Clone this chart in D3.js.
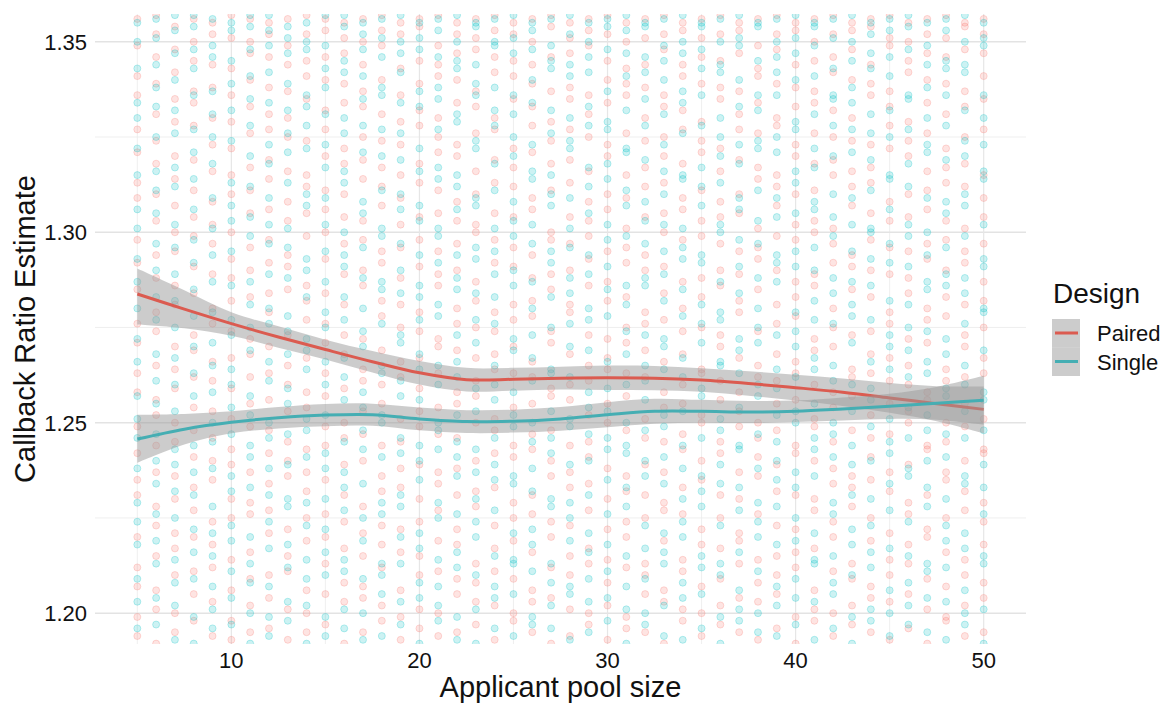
<!DOCTYPE html>
<html>
<head>
<meta charset="utf-8">
<script src="https://cdn.jsdelivr.net/npm/d3@7"></script>
<style>
  body { margin: 0; background: #fff; }
  text { font-family: "Liberation Sans", Arial, sans-serif; fill: #111; }
</style>
</head>
<body>
<div id="chart"></div>
<script>
// applicant pool sizes (one column of points each)
const poolSizes = [5,6,7,8,9,10,11,12,13,14,15,16,17,18,19,20,21,22,23,24,25,26,27,28,29,30,
  31,32,33,34,35,36,37,38,39,40,41,42,43,44,45,46,47,48,49,50]

// callback ratio estimates, stored as thousandths above 1 (e.g. 245 -> 1.245)
const pairedPoints = [
  [194,199,207,212,220,231,235,242,249,258,263,271,276,285,292,298,309,313,321,327,336,341,349,356],
  [192,201,206,215,223,228,237,244,252,256,265,274,279,288,294,303,310,318,324,331,339,346,352,357],
  [195,200,210,217,221,230,236,245,250,259,264,270,281,286,295,300,307,314,320,329,335,342,348,354],
  [198,205,211,220,227,233,241,248,254,262,269,273,284,291,299,304,311,319,328,334,337,345,350,356],
  [194,203,212,218,224,235,240,246,253,261,266,276,280,289,297,302,308,316,323,330,338,344,352,355],
  [193,198,206,214,225,230,239,243,251,259,267,274,282,288,293,300,310,315,322,329,336,343,351,357],
  [195,202,209,216,226,229,237,249,255,262,268,272,283,290,296,305,311,317,326,333,340,347,350,356],
  [196,204,210,221,227,234,242,248,256,263,270,279,284,292,298,306,314,319,327,331,338,346,352,355],
  [193,201,211,215,222,236,240,245,253,260,265,273,285,291,294,303,308,316,325,330,337,344,349,356],
  [195,200,206,219,225,232,237,243,254,258,267,277,282,286,299,305,312,315,324,335,341,345,352,357],
  [197,205,213,220,226,235,244,249,257,263,271,276,284,293,300,306,311,320,327,332,340,346,353,356],
  [192,203,208,217,224,231,239,246,250,259,268,273,281,289,297,304,310,318,322,334,339,347,351,355],
  [195,204,207,215,221,228,240,247,253,261,264,272,286,290,298,303,314,319,325,333,337,344,350,356],
  [198,202,212,218,223,232,236,244,255,260,269,278,282,292,295,307,312,317,324,331,340,349,353,357],
  [193,199,206,216,222,233,238,245,251,262,266,275,281,288,296,302,309,315,323,329,336,343,352,355],
  [196,201,210,215,224,230,239,249,253,259,267,274,279,291,298,304,313,318,328,332,339,345,354,356],
  [194,200,211,219,227,234,237,247,254,263,270,272,286,289,295,305,311,321,325,330,341,344,349,357],
  [195,205,209,218,222,231,238,246,255,258,269,276,280,290,297,303,308,320,323,334,340,347,352,355],
  [197,203,208,213,228,232,240,250,257,261,267,275,282,287,300,302,310,316,326,333,337,348,351,356],
  [193,202,211,217,223,233,242,248,251,264,268,274,279,292,298,305,313,319,327,330,342,346,353,357],
  [198,200,209,219,225,229,241,244,254,263,270,277,281,291,296,304,312,317,322,335,341,345,352,355],
  [195,203,206,216,226,231,243,247,255,262,266,278,282,288,294,306,309,321,328,333,339,344,350,356],
  [192,204,212,220,224,236,240,248,257,259,271,274,285,289,298,300,311,318,324,329,337,346,354,357],
  [194,201,210,215,223,233,237,244,256,260,268,279,281,290,297,304,313,319,327,335,338,347,351,355],
  [197,200,213,217,227,234,241,245,252,261,265,273,286,293,299,303,308,316,325,331,336,349,353,356],
  [193,202,208,214,222,230,238,250,255,264,267,272,282,287,295,306,310,320,323,334,340,345,352,357],
  [196,199,212,220,224,232,236,248,257,263,271,275,283,292,296,301,309,315,326,336,339,343,350,355],
  [195,205,210,213,225,231,239,246,251,262,269,276,279,290,294,304,312,317,324,330,338,344,351,356],
  [192,203,206,219,227,229,237,245,254,258,266,277,284,291,300,305,313,320,325,333,336,348,352,357],
  [198,201,211,214,226,233,243,247,255,260,268,274,280,287,298,306,309,318,327,332,341,344,353,355],
  [194,200,207,218,222,235,240,250,252,263,264,275,283,288,299,303,311,321,324,329,339,346,351,356],
  [197,202,209,217,225,231,242,245,256,261,270,273,286,290,297,304,308,316,322,335,338,345,352,357],
  [195,204,213,219,221,230,237,249,253,258,267,279,282,289,295,305,310,319,327,331,337,347,353,355],
  [193,203,208,214,226,236,241,246,250,262,265,274,285,293,296,301,314,317,326,334,341,343,349,356],
  [196,205,210,215,223,232,239,248,255,261,268,276,281,290,299,307,312,315,328,330,339,348,352,357],
  [192,199,212,216,222,231,242,244,256,263,266,278,283,287,298,302,310,320,323,333,338,344,353,355],
  [198,201,206,217,227,230,240,249,251,260,269,272,286,289,300,303,311,318,326,334,337,345,350,356],
  [194,200,211,220,224,234,238,245,254,258,270,275,280,292,297,301,315,319,325,332,342,346,352,357],
  [197,202,209,213,228,233,236,248,257,262,264,273,285,291,294,307,312,316,324,330,340,348,353,355],
  [195,204,207,219,225,235,241,246,252,263,268,274,283,290,298,305,313,317,323,336,339,344,354,356],
  [193,203,210,214,221,232,237,247,255,261,267,276,279,289,296,303,308,322,328,333,337,349,351,357],
  [196,205,213,218,226,229,239,250,253,260,265,272,284,288,295,304,310,320,324,329,342,345,350,355],
  [192,201,209,220,222,231,243,244,256,258,271,277,280,293,297,306,311,316,326,334,340,347,352,356],
  [198,199,207,216,225,235,237,245,250,261,264,278,283,290,298,303,313,317,322,331,339,346,351,357],
  [194,202,210,214,227,232,240,249,255,262,270,273,281,292,295,301,312,318,325,333,337,348,354,355],
  [195,204,208,218,224,229,242,243,251,263,267,275,282,287,297,304,309,315,327,335,341,347,352,356]
]
const singlePoints = [
  [196,203,209,218,224,229,238,246,251,257,266,272,280,287,293,301,306,315,322,330,334,343,350,355],
  [197,204,213,219,226,234,240,247,255,261,268,277,283,290,297,305,311,316,325,333,338,344,351,356],
  [193,202,208,214,225,232,239,243,253,260,267,275,282,289,296,302,312,317,326,332,340,347,353,357],
  [192,199,209,216,222,231,237,244,257,263,270,278,285,292,298,306,314,321,327,336,343,348,354,357],
  [196,201,207,215,221,228,238,245,250,258,265,271,279,287,294,301,309,318,325,331,337,346,349,356],
  [197,204,211,219,223,232,236,247,254,260,264,273,277,286,295,303,307,313,324,332,339,345,353,355],
  [192,200,208,213,220,233,241,244,252,257,269,275,281,287,299,304,312,320,328,335,341,348,354,357],
  [194,199,207,217,224,231,238,246,250,261,266,276,280,289,297,302,309,318,323,334,342,349,353,357],
  [198,203,212,218,228,230,239,247,255,259,268,274,278,288,296,301,313,321,326,332,339,347,351,354],
  [192,202,209,214,223,229,241,248,251,264,269,272,283,290,293,307,310,322,328,333,336,348,350,355],
  [194,199,210,216,222,230,238,242,252,260,266,275,279,287,295,302,309,317,323,331,338,343,349,357],
  [196,201,211,214,227,233,237,245,256,262,267,277,283,291,294,300,313,316,326,330,342,345,354,357],
  [193,200,209,219,225,234,243,248,254,258,270,274,280,288,296,305,308,321,328,335,341,348,352,355],
  [194,205,210,213,226,229,241,250,252,263,265,276,285,287,299,301,311,320,327,336,338,346,351,356],
  [197,203,213,220,228,231,242,246,257,261,271,273,284,290,297,306,310,319,326,334,342,347,350,357],
  [192,204,208,217,221,235,240,244,256,264,268,277,283,286,294,303,307,316,322,333,337,348,351,355],
  [198,202,207,214,225,229,243,248,250,260,265,278,281,292,299,301,314,317,327,335,338,346,353,356],
  [193,199,212,216,226,236,241,245,252,262,266,273,285,288,294,306,312,315,329,331,343,345,350,357],
  [192,201,210,220,224,230,237,243,253,259,271,277,284,293,296,307,309,322,324,336,339,344,354,355],
  [196,204,207,215,227,235,239,246,256,260,265,276,283,289,295,301,311,318,328,332,338,349,350,356],
  [194,205,213,214,221,234,236,249,252,258,269,272,286,290,299,303,308,320,325,331,336,347,351,357],
  [197,199,211,218,222,232,238,245,250,261,267,273,280,287,297,302,314,316,323,334,340,348,353,355],
  [196,202,208,213,228,230,242,246,253,263,264,275,283,292,295,307,310,315,326,332,343,345,349,356],
  [193,205,207,219,225,229,239,249,251,262,270,276,284,288,296,301,309,322,324,330,341,344,352,357],
  [195,203,209,216,221,231,240,247,254,258,269,277,280,289,294,305,312,317,328,333,342,346,350,355],
  [198,204,211,218,226,235,243,246,253,259,266,278,285,291,298,302,314,318,327,329,337,348,354,356],
  [192,201,207,215,228,233,242,244,250,260,268,274,281,286,299,307,311,321,322,332,341,347,353,357],
  [197,200,209,217,223,236,240,248,256,261,265,273,286,288,297,303,308,319,328,335,342,346,354,355],
  [194,202,213,216,221,234,241,249,252,264,270,272,282,289,295,302,310,316,323,331,340,345,349,356],
  [193,204,208,220,224,230,238,244,253,262,267,278,285,293,296,301,314,315,326,334,337,347,350,357],
  [196,205,212,215,228,232,236,246,257,259,271,276,281,292,294,307,312,317,328,336,343,348,354,355],
  [192,199,210,213,223,234,239,248,251,265,266,277,279,287,300,302,313,320,325,330,342,344,350,356],
  [198,201,206,216,227,233,243,244,254,263,269,272,284,291,298,306,309,318,323,333,340,349,351,357],
  [195,200,211,220,224,229,238,247,257,260,271,275,280,288,297,303,311,322,324,332,336,345,354,355],
  [194,202,207,218,228,235,240,245,252,259,264,273,287,292,294,304,309,321,325,336,342,346,350,356],
  [197,204,209,219,225,233,237,250,253,262,270,274,279,291,295,305,313,316,327,329,340,347,351,357],
  [193,203,213,214,221,236,243,246,255,264,267,277,282,290,296,306,308,317,322,331,341,349,354,355],
  [196,205,208,215,226,229,241,247,250,261,265,276,284,288,299,304,310,320,328,335,336,343,351,356],
  [192,199,210,218,222,231,239,244,253,260,271,278,281,287,295,302,309,321,327,334,338,345,350,357],
  [198,201,212,216,223,230,240,249,256,259,266,277,286,293,300,301,311,319,326,331,343,347,352,355],
  [194,200,206,217,227,234,242,245,251,264,270,273,282,292,297,306,314,315,325,332,341,346,353,356],
  [197,202,208,215,224,236,238,246,254,262,269,275,281,291,299,302,312,318,327,335,336,348,354,357],
  [195,204,211,213,228,233,240,248,252,263,266,274,285,287,294,300,309,321,323,330,338,344,349,355],
  [193,203,212,219,223,230,241,247,257,259,268,272,286,289,296,305,308,319,328,336,343,345,353,356],
  [197,200,206,217,221,234,236,246,253,260,265,276,284,288,299,307,310,320,324,332,342,344,350,357],
  [192,201,213,215,226,233,239,248,256,258,269,279,280,291,293,302,314,316,323,330,336,349,351,355]
]

// loess fits
const smoothX    = [5,7.5,10,12.5,15,17.5,20,22.5,25,27.5,30,32.5,35,37.5,40,42.5,45,47.5,50]
const pairedFit  = [1.2838,1.2798,1.2760,1.2725,1.2692,1.2660,1.2631,1.2613,1.2614,1.2617,1.2618,1.2617,1.2612,1.2603,1.2592,1.2580,1.2565,1.2550,1.2535]
const pairedLo   = [1.2758,1.2748,1.2728,1.2697,1.2666,1.2632,1.2600,1.2582,1.2584,1.2587,1.2586,1.2585,1.2581,1.2571,1.2558,1.2544,1.2526,1.2504,1.2472]
const pairedHi   = [1.2905,1.2848,1.2790,1.2753,1.2718,1.2688,1.2662,1.2644,1.2644,1.2647,1.2650,1.2649,1.2643,1.2635,1.2626,1.2616,1.2604,1.2596,1.2595]
const singleFit  = [1.2457,1.2483,1.2501,1.2513,1.2520,1.2521,1.2510,1.2503,1.2504,1.2510,1.2521,1.2530,1.2530,1.2528,1.2530,1.2536,1.2543,1.2551,1.2559]
const singleLo   = [1.2395,1.2443,1.2472,1.2485,1.2491,1.2492,1.2480,1.2473,1.2474,1.2479,1.2488,1.2497,1.2500,1.2499,1.2502,1.2506,1.2510,1.2508,1.2495]
const singleHi   = [1.2521,1.2523,1.2530,1.2541,1.2549,1.2550,1.2540,1.2533,1.2534,1.2541,1.2554,1.2563,1.2560,1.2557,1.2558,1.2566,1.2576,1.2594,1.2623]

const designs    = ['Paired', 'Single']
const xTicks     = [10, 20, 30, 40, 50]
const xMinor     = [5, 15, 25, 35, 45]
const yTicks     = [1.20, 1.25, 1.30, 1.35]
const yMinor     = [1.225, 1.275, 1.325]

const pointColor = {Paired: '#F8766D', Single: '#00BFC4'}
const lineColor  = {Paired: '#DB5B50', Single: '#45AEB3'}

var width = 1164, height = 704
var panel = {left: 95, right: 1026, top: 14, bottom: 644}

var svg = d3.select('#chart').append('svg')
  .attr('width', width).attr('height', height)

var x = d3.scaleLinear().domain([2.75, 52.25]).range([panel.left, panel.right])
var y = d3.scaleLinear().domain([1.1919, 1.3573]).range([panel.bottom, panel.top])

svg.append('clipPath').attr('id', 'panelClip')
  .append('rect')
  .attr('x', panel.left).attr('y', panel.top)
  .attr('width', panel.right - panel.left).attr('height', panel.bottom - panel.top)

// grid
var grid = svg.append('g')
grid.selectAll('.ymin').data(yMinor).join('line')
  .attr('x1', panel.left).attr('x2', panel.right)
  .attr('y1', d => y(d)).attr('y2', d => y(d))
  .attr('stroke', '#ebebeb').attr('stroke-width', 0.8)
grid.selectAll('.xmin').data(xMinor).join('line')
  .attr('y1', panel.top).attr('y2', panel.bottom)
  .attr('x1', d => x(d)).attr('x2', d => x(d))
  .attr('stroke', '#ebebeb').attr('stroke-width', 0.8)
grid.selectAll('.ymaj').data(yTicks).join('line')
  .attr('x1', panel.left).attr('x2', panel.right)
  .attr('y1', d => y(d)).attr('y2', d => y(d))
  .attr('stroke', '#e3e3e3').attr('stroke-width', 1.5)
grid.selectAll('.xmaj').data(xTicks).join('line')
  .attr('y1', panel.top).attr('y2', panel.bottom)
  .attr('x1', d => x(d)).attr('x2', d => x(d))
  .attr('stroke', '#e6e6e6').attr('stroke-width', 1.2)

// points
var plot = svg.append('g').attr('clip-path', 'url(#panelClip)')
var seriesPoints = {Paired: pairedPoints, Single: singlePoints}
designs.forEach(function(design) {
  var pts = []
  seriesPoints[design].forEach(function(col, i) {
    col.forEach(function(v) { pts.push({x: poolSizes[i], y: 1 + v / 1000}) })
  })
  plot.append('g').selectAll('circle').data(pts).join('circle')
    .attr('cx', d => x(d.x)).attr('cy', d => y(d.y)).attr('r', 3.5)
    .attr('fill', pointColor[design]).attr('fill-opacity', 0.2)
    .attr('stroke', pointColor[design]).attr('stroke-opacity', 0.32).attr('stroke-width', 0.8)
})

// smooth ribbons and lines
var fits = {
  Paired: {fit: pairedFit, lo: pairedLo, hi: pairedHi},
  Single: {fit: singleFit, lo: singleLo, hi: singleHi}
}
designs.forEach(function(design) {
  var f = fits[design]
  var rows = smoothX.map((v, i) => ({x: v, fit: f.fit[i], lo: f.lo[i], hi: f.hi[i]}))
  plot.append('path').datum(rows)
    .attr('fill', '#999999').attr('fill-opacity', 0.5)
    .attr('d', d3.area().curve(d3.curveCatmullRom)
      .x(d => x(d.x)).y0(d => y(d.lo)).y1(d => y(d.hi)))
  plot.append('path').datum(rows)
    .attr('fill', 'none').attr('stroke', lineColor[design]).attr('stroke-width', 3)
    .attr('d', d3.line().curve(d3.curveCatmullRom).x(d => x(d.x)).y(d => y(d.fit)))
})

// axis labels
svg.append('g').selectAll('text').data(xTicks).join('text')
  .attr('x', d => x(d)).attr('y', 668)
  .attr('text-anchor', 'middle').style('font-size', '22px')
  .text(d => d)
svg.append('g').selectAll('text').data(yTicks).join('text')
  .attr('x', 87).attr('y', d => y(d)).attr('dy', '0.36em')
  .attr('text-anchor', 'end').style('font-size', '22px')
  .text(d => d.toFixed(2))

svg.append('text')
  .attr('x', (panel.left + panel.right) / 2).attr('y', 697)
  .attr('text-anchor', 'middle').style('font-size', '29px')
  .text('Applicant pool size')
svg.append('text')
  .attr('transform', 'translate(35,' + ((panel.top + panel.bottom) / 2) + ') rotate(-90)')
  .attr('text-anchor', 'middle').style('font-size', '29px')
  .text('Callback Ratio Estimate')

// legend
var legend = svg.append('g')
legend.append('text').attr('x', 1053).attr('y', 303).style('font-size', '28px').text('Design')
designs.forEach(function(design, i) {
  var ky = 319 + i * 28.5
  legend.append('rect').attr('x', 1052).attr('y', ky).attr('width', 28).attr('height', 28.5)
    .attr('fill', '#999999').attr('fill-opacity', 0.5)
  legend.append('line').attr('x1', 1055).attr('x2', 1078)
    .attr('y1', ky + 14).attr('y2', ky + 14)
    .attr('stroke', lineColor[design]).attr('stroke-width', 3)
  legend.append('text').attr('x', 1097).attr('y', ky + 22)
    .style('font-size', '22px').text(design)
})
</script>
</body>
</html>
